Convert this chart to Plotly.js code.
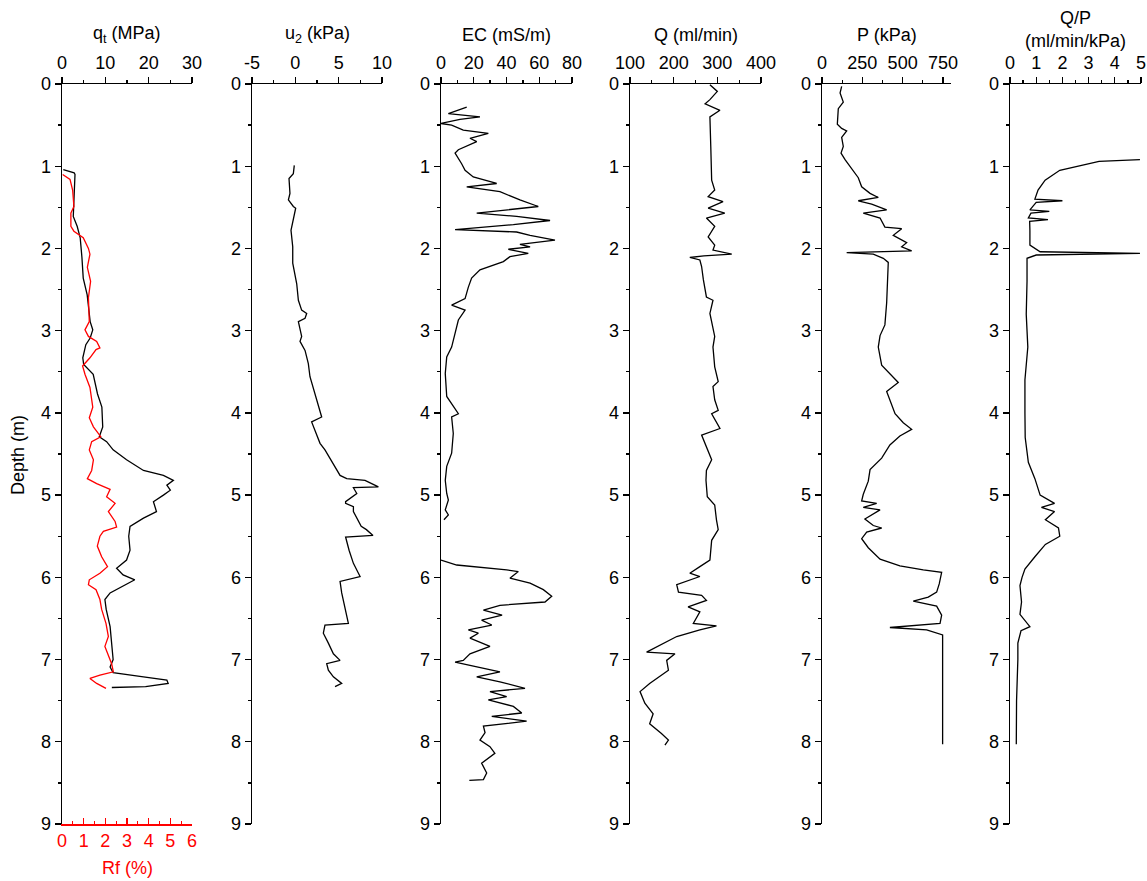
<!DOCTYPE html>
<html>
<head>
<meta charset="utf-8">
<script src="https://cdn.plot.ly/plotly-3.0.1.min.js"></script>
<style>html,body{margin:0;padding:0;background:#fff;}#chart{width:1147px;height:881px;}</style>
</head>
<body>
<div id="chart"></div>
<script>
// ---------- data (depth in m) ----------
const qtDepth = [1.04,1.08,1.10,1.61,1.73,1.87,2.11,2.36,2.56,2.89,2.99,3.09,3.17,3.33,3.41,3.53,3.77,3.93,4.17,4.29,4.35,4.45,4.57,4.70,4.76,4.82,4.88,4.94,5.00,5.08,5.20,5.28,5.38,5.50,5.67,5.79,5.89,5.97,6.03,6.11,6.19,6.27,6.39,6.60,6.80,7.00,7.09,7.16,7.21,7.25,7.29,7.33,7.34];
const qtVal   = [0.3,2.8,3.0,2.6,3.5,4.2,4.6,4.9,5.8,6.5,7.1,6.5,5.5,4.8,5.0,7.2,8.2,9.2,9.4,8.6,10.3,11.8,14.9,18.8,23.4,25.7,24.2,25.0,23.4,21.1,21.8,18.8,15.7,15.4,15.7,14.9,12.6,14.1,16.8,14.1,11.1,9.9,10.2,11.1,11.5,11.8,11.1,11.8,18.8,24.2,24.5,19.3,11.5];

const rfDepth = [1.10,1.16,1.29,1.49,1.57,1.73,1.79,1.87,2.00,2.07,2.23,2.40,2.60,2.89,2.99,3.07,3.13,3.21,3.23,3.33,3.43,3.53,3.69,3.93,4.06,4.17,4.29,4.35,4.45,4.57,4.70,4.80,4.86,4.93,5.02,5.10,5.20,5.32,5.39,5.44,5.50,5.62,5.75,5.87,5.95,6.03,6.09,6.15,6.27,6.39,6.56,6.72,6.84,6.96,7.05,7.15,7.19,7.23,7.29,7.35];
const rfVal   = [0.03,0.37,0.49,0.55,0.41,0.41,0.55,0.98,1.22,1.29,1.17,1.32,1.22,1.26,1.06,1.22,1.60,1.75,1.57,1.29,0.95,1.06,1.29,1.42,1.26,1.45,1.79,1.37,1.26,1.45,1.37,1.17,1.60,2.22,2.06,2.45,2.14,2.45,2.52,1.91,1.75,1.63,1.83,2.10,1.75,1.26,1.22,1.57,1.75,1.83,2.03,2.14,1.98,2.14,2.29,2.37,1.75,1.29,1.60,2.03];

const u2Depth = [0.99,1.09,1.15,1.33,1.41,1.49,1.51,1.78,1.98,2.18,2.43,2.63,2.75,2.79,2.85,2.89,3.07,3.13,3.24,3.40,3.56,3.72,3.85,4.05,4.11,4.21,4.37,4.45,4.55,4.66,4.76,4.80,4.82,4.86,4.90,4.91,4.98,5.08,5.10,5.14,5.20,5.38,5.42,5.49,5.51,5.67,5.83,5.99,6.05,6.19,6.40,6.56,6.58,6.68,6.80,6.93,7.01,7.05,7.13,7.21,7.29,7.33];
const u2Val   = [-0.12,-0.23,-0.73,-0.62,-0.80,-0.23,0.04,-0.50,-0.30,-0.30,0.16,0.35,0.73,1.31,1.12,0.35,0.73,0.54,1.12,1.50,1.69,2.16,2.54,3.04,1.88,2.27,2.85,3.42,4.00,4.58,5.16,5.93,8.04,8.81,9.58,6.70,7.09,5.80,5.80,6.70,6.70,7.60,8.20,8.96,5.80,6.20,6.70,7.47,5.16,5.35,5.74,6.12,3.42,3.23,3.81,4.39,5.16,3.62,3.81,4.39,5.35,4.58];

const ecDepth = [0.28,0.36,0.40,0.43,0.48,0.50,0.56,0.60,0.66,0.70,0.80,0.84,0.97,1.05,1.13,1.21,1.25,1.31,1.41,1.49,1.57,1.61,1.66,1.71,1.77,1.80,1.84,1.90,1.95,1.98,2.01,2.06,2.10,2.16,2.26,2.36,2.47,2.61,2.69,2.75,2.87,3.03,3.20,3.32,3.52,3.80,4.01,4.05,4.25,4.49,4.65,4.82,4.98,5.06,5.18,5.24,5.30,null,5.79,5.85,5.91,5.93,6.01,6.07,6.15,6.23,6.30,6.34,6.40,6.46,6.52,6.58,6.64,6.68,6.74,6.84,6.93,7.01,7.03,7.07,7.15,7.21,7.27,7.35,7.39,7.45,7.49,7.57,7.65,7.69,7.75,7.81,7.89,7.98,8.06,8.14,8.26,8.38,8.46,8.47];
const ecVal   = [15.7,4.5,23.8,11.6,0,6.5,13.6,28.9,17.7,21.8,10.6,8.6,12.6,14.7,19.7,34.0,15.7,36.0,48.2,59.4,21.8,46.2,66.6,44.2,8.6,46.2,54.4,69.6,48.2,54.4,41.1,53.3,42.1,38.1,23.8,18.7,16.7,14.7,6.5,14.7,10.6,8.6,6.5,3.5,2.6,3.5,10.6,6.5,7.5,6.5,3.5,2.6,3.5,4.5,2.6,4.5,1.8,null,0,9.6,40.1,47.2,42.1,54.4,62.5,67.6,63.5,36.0,25.9,37.3,24.8,31.0,16.7,22.8,17.7,29.9,17.7,13.6,8.6,17.7,36.0,21.8,36.0,51.3,29.9,40.1,28.9,44.2,49.3,31.0,52.3,25.9,26.9,23.8,29.9,32.9,24.8,27.9,25.9,17.3];

const qDepth = [0.01,0.09,0.19,0.24,0.32,0.40,0.76,1.17,1.29,1.37,1.43,1.51,1.57,1.63,1.73,1.86,1.96,2.02,2.07,2.09,2.11,2.14,2.22,2.38,2.59,2.63,2.79,3.07,3.20,3.44,3.62,3.68,3.84,3.97,4.01,4.19,4.27,4.41,4.57,4.70,4.82,5.02,5.12,5.30,5.42,5.55,5.79,5.87,5.95,5.99,6.09,6.18,6.22,6.28,6.36,6.42,6.56,6.59,6.64,6.72,6.82,6.91,6.93,7.01,7.13,7.21,7.29,7.39,7.53,7.66,7.78,7.90,7.98,8.04];
const qVal   = [283,300,283,272,306,283,285,287,294,279,313,279,317,275,294,279,294,290,333,269,237,260,264,268,275,290,283,294,290,294,302,290,294,302,287,306,264,275,287,275,274,277,294,298,302,287,283,260,237,260,207,211,264,275,233,260,245,298,260,207,169,138,203,184,188,165,145,123,134,153,145,172,188,180];

const pDepth = [0.03,0.11,0.22,0.30,0.49,0.54,0.57,0.65,0.76,0.84,0.92,1.03,1.14,1.25,1.33,1.38,1.42,1.46,1.53,1.57,1.63,1.74,1.76,1.84,1.93,1.98,2.03,2.05,2.07,2.12,2.17,2.66,2.93,3.06,3.20,3.42,3.53,3.63,3.74,3.90,4.01,4.12,4.20,4.28,4.39,4.55,4.69,4.83,4.99,5.07,5.10,5.15,5.18,5.29,5.37,5.40,5.45,5.53,5.64,5.78,5.86,5.91,5.94,6.08,6.18,6.24,6.29,6.35,6.46,6.56,6.61,6.64,6.70,8.03];
const pVal   = [122,112,132,101,95,122,153,122,132,118,143,184,225,246,298,349,225,308,401,256,360,390,494,442,525,494,556,153,318,380,411,401,390,360,349,370,421,473,401,432,453,504,556,483,421,370,298,287,256,246,339,256,360,266,318,370,277,246,287,360,483,628,742,727,711,659,566,711,742,732,421,649,748,748];

const qpDepth = [0.92,0.94,1.05,1.17,1.29,1.40,1.42,1.44,1.53,1.55,1.57,1.63,1.65,1.67,1.78,1.96,2.04,2.06,2.08,2.12,2.40,2.80,3.20,3.60,4.00,4.30,4.60,4.80,5.00,5.10,5.15,5.20,5.30,5.40,5.50,5.60,5.75,5.90,6.00,6.10,6.30,6.45,6.60,6.65,6.80,7.00,7.50,8.03];
const qpVal   = [4.96,3.40,1.90,1.34,1.07,0.95,2.00,1.00,0.76,1.50,0.80,0.70,1.45,0.75,0.76,0.76,1.15,4.96,1.00,0.65,0.65,0.62,0.68,0.57,0.57,0.58,0.70,0.95,1.15,1.70,1.20,1.70,1.35,1.85,1.90,1.35,0.95,0.57,0.46,0.38,0.44,0.38,0.76,0.42,0.30,0.30,0.25,0.24];

// tick / axis labels
const panelTitles = ['q<sub>t</sub> (MPa)','u<sub>2</sub> (kPa)','EC (mS/m)','Q (ml/min)','P (kPa)','Q/P<br>(ml/min/kPa)'];
const panelRanges = [[0,30],[-5,10],[0,80],[100,400],[0,800],[0,5]];
const panelTickVals = [[0,10,20,30],[-5,0,5,10],[0,20,40,60,80],[100,200,300,400],[0,250,500,750],[0,1,2,3,4,5]];
const panelTickText = [['0','10','20','30'],['-5','0','5','10'],['0','20','40','60','80'],['100','200','300','400'],['0','250','500','750'],['0','1','2','3','4','5']];
const panelMinor  = [5,2.5,10,50,125,0.5];
const depthTicks  = [0,1,2,3,4,5,6,7,8,9];
const rfTickVals = [0,1,2,3,4,5,6];
const rfRange = [0,6];
const depthTitle = 'Depth (m)';
const rfTitle = 'Rf (%)';

// ---------- layout geometry ----------
const W = 1147, H = 881;
const px = [[62,192],[252,382],[441,572],[630,761],[822,951],[1010,1141]];
const yTop = 84, yBot = 824;
const yDom = [1 - yBot/H, 1 - yTop/H];
const FONT = 'Liberation Sans, Arial, sans-serif';
const FS = 18;

const layout = {
  width: W, height: H,
  margin: {l:0, r:0, t:0, b:0},
  paper_bgcolor: '#fff', plot_bgcolor: 'rgba(0,0,0,0)',
  showlegend: false,
  font: {family: FONT, size: FS, color: '#000'},
  annotations: []
};

const traceDefs = [
  [qtDepth, qtVal], [u2Depth, u2Val], [ecDepth, ecVal],
  [qDepth, qVal], [pDepth, pVal], [qpDepth, qpVal]
];
const data = [];

for (let i = 0; i < 6; i++) {
  const n = i === 0 ? '' : String(i + 1);
  const xa = 'xaxis' + n, ya = 'yaxis' + n;
  layout[xa] = {
    domain: [px[i][0]/W, px[i][1]/W],
    range: panelRanges[i], side: 'top', anchor: 'y' + n,
    showline: true, linecolor: '#000', linewidth: 1.5,
    ticks: 'outside', ticklen: 6, tickwidth: 1.3, tickcolor: '#000',
    tickmode: 'array', tickvals: panelTickVals[i], ticktext: panelTickText[i],
    minor: {ticks: 'outside', ticklen: 3, tickwidth: 1.3, tickcolor: '#000', dtick: panelMinor[i], tick0: panelRanges[i][0], showgrid: false},
    showgrid: false, zeroline: false, fixedrange: true,
    tickfont: {family: FONT, size: FS, color: '#000'}
  };
  layout[ya] = {
    domain: yDom, range: [9, 0], anchor: 'x' + n,
    showline: true, linecolor: '#000', linewidth: 1.5,
    ticks: 'outside', ticklen: 6, tickwidth: 1.3, tickcolor: '#000',
    tickvals: depthTicks,
    minor: {ticks: 'outside', ticklen: 3, tickwidth: 1.3, tickcolor: '#000', dtick: 0.5, showgrid: false},
    showgrid: false, zeroline: false, fixedrange: true,
    tickfont: {family: FONT, size: FS, color: '#000'}
  };
  data.push({
    type: 'scatter', mode: 'lines',
    x: traceDefs[i][1], y: traceDefs[i][0],
    xaxis: 'x' + n, yaxis: 'y' + n,
    line: {color: '#000', width: 1.3}, connectgaps: false, hoverinfo: 'skip'
  });
  const cx = (px[i][0] + px[i][1]) / 2;
  layout.annotations.push({
    text: panelTitles[i], xref: 'paper', yref: 'paper',
    x: cx / W, y: 1 - (i === 5 ? 29 : 35) / H,
    xanchor: 'center', yanchor: 'middle', showarrow: false,
    font: {family: FONT, size: FS, color: '#000'}
  });
}

// Rf secondary axis at bottom of first panel
layout.xaxis7 = {
  domain: [px[0][0]/W, px[0][1]/W], overlaying: 'x', anchor: 'y', side: 'bottom',
  range: rfRange, tickvals: rfTickVals,
  showline: true, linecolor: '#ff0000', linewidth: 1.5,
  ticks: 'inside', ticklen: 6, tickwidth: 1.3, tickcolor: '#ff0000',
  minor: {ticks: 'inside', ticklen: 3, tickwidth: 1.3, tickcolor: '#ff0000', dtick: 0.5, showgrid: false},
  showgrid: false, zeroline: false, fixedrange: true,
  tickfont: {family: FONT, size: FS, color: '#ff0000'}
};
data.push({
  type: 'scatter', mode: 'lines', x: rfVal, y: rfDepth,
  xaxis: 'x7', yaxis: 'y', line: {color: '#ff0000', width: 1.3}, hoverinfo: 'skip'
});

layout.annotations.push({
  text: depthTitle, xref: 'paper', yref: 'paper', x: 18/W, y: 1 - 455/H,
  xanchor: 'center', yanchor: 'middle', textangle: -90, showarrow: false,
  font: {family: FONT, size: FS, color: '#000'}
});
layout.annotations.push({
  text: rfTitle, xref: 'paper', yref: 'paper', x: 127/W, y: 1 - 868/H,
  xanchor: 'center', yanchor: 'middle', showarrow: false,
  font: {family: FONT, size: FS, color: '#ff0000'}
});

Plotly.newPlot('chart', data, layout, {displayModeBar: false, staticPlot: true});
</script>
</body>
</html>
